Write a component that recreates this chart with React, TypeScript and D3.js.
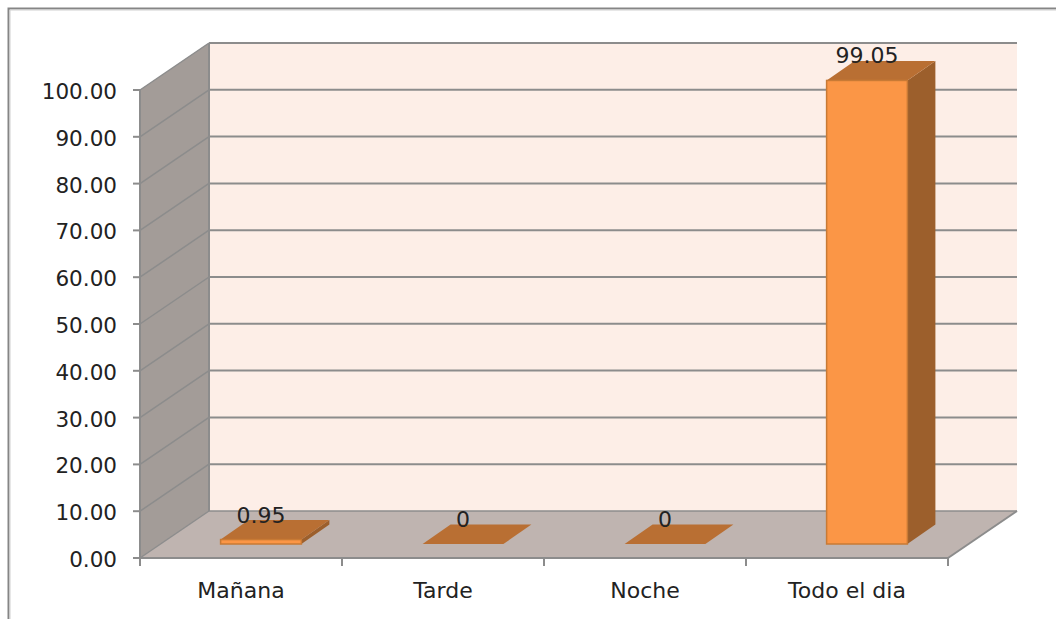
import React from "react";
import * as d3 from "d3";

const categories = ["Mañana", "Tarde", "Noche", "Todo el dia"];
const values = [0.95, 0, 0, 99.05];
const valueLabels = ["0.95", "0", "0", "99.05"];
const yTicks = [0, 10, 20, 30, 40, 50, 60, 70, 80, 90, 100];
const FONT = "'DejaVu Sans', sans-serif";

const x0 = 140, x1 = 948, yBase = 558, yTop = 90;
const dx = 69, dy = -47;
const barDx = 28, barDy = -19.5;
const floorOffX = 20, floorOffY = -14;

const y = d3.scaleLinear().domain([0, 100]).range([yBase, yTop]);
const x = d3.scaleBand<string>().domain(categories).range([x0, x1]).paddingInner(0.6).paddingOuter(0.3);

const poly = (pts: number[][]) => (d3.line()(pts as [number, number][]) ?? "") + "Z";

export default function App() {
  const h = y(0) - y(100);
  return (
    <svg width={1056} height={619} style={{ position: "absolute", left: 0, top: 0, background: "#fff" }}>
      <path d="M1056,8.5H8.5V619" fill="none" stroke="#858585" strokeWidth={2} />
      <path d="M1056,10H10V619" fill="none" stroke="#d0d0d0" strokeWidth={1} />
      {/* back wall */}
      <rect x={x0 + dx} y={yTop + dy} width={x1 - x0} height={h} fill="#fdeee7" />
      {/* side wall */}
      <path d={poly([[x0, yTop], [x0 + dx, yTop + dy], [x0 + dx, yBase + dy], [x0, yBase]])} fill="#a39c98" />
      {/* floor */}
      <path d={poly([[x0, yBase], [x0 + dx, yBase + dy], [x1 + dx, yBase + dy], [x1, yBase]])} fill="#bfb4b0" />
      {/* grid */}
      {yTicks.map((t) => (
        <g key={t} stroke="#8c8c8c" strokeWidth={2} fill="none">
          {t > 0 && <line x1={x0 + dx} x2={x1 + dx} y1={y(t) + dy} y2={y(t) + dy} />}
          {t === 0 && <line x1={x0 + dx} x2={x1 + dx} y1={y(t) + dy} y2={y(t) + dy} strokeWidth={1.5} />}
          <line x1={x0} y1={y(t)} x2={x0 + dx} y2={y(t) + dy} strokeWidth={1.5} />
          <line x1={x0 - 7} x2={x0} y1={y(t)} y2={y(t)} />
        </g>
      ))}
      <g stroke="#8c8c8c" strokeWidth={2} fill="none">
        <line x1={x0 + dx} x2={x0 + dx} y1={yTop + dy} y2={yBase + dy} />
        <line x1={x0} x2={x0} y1={yTop} y2={yBase + 8} />
        <line x1={x0} x2={x1} y1={yBase} y2={yBase} />
        <line x1={x1} y1={yBase} x2={x1 + dx} y2={yBase + dy} />
        {d3.range(5).map((i) => {
          const tx = x0 + ((x1 - x0) * i) / 4;
          return <line key={i} x1={tx} x2={tx} y1={yBase} y2={yBase + 8} />;
        })}
      </g>
      {/* bars */}
      {categories.map((c, i) => {
        const bx = x(c)! + floorOffX;
        const w = x.bandwidth();
        const b = yBase + floorOffY;
        const t = b - (yBase - y(values[i]));
        return (
          <g key={c}>
            <path d={poly([[bx + w, t], [bx + w + barDx, t + barDy], [bx + w + barDx, b + barDy], [bx + w, b]])} fill="#9c5f2c" />
            <path d={poly([[bx, t], [bx + barDx, t + barDy], [bx + w + barDx, t + barDy], [bx + w, t]])} fill="#b96f33" />
            {values[i] > 0 && (
              <rect x={bx} y={t} width={w} height={b - t} fill="#fb9646" stroke="#c87a35" strokeWidth={1.5} />
            )}
          </g>
        );
      })}
      {/* labels */}
      <g fontFamily={FONT} fontSize={21.5} fill="#222">
        {yTicks.map((t) => (
          <text key={t} x={117} y={y(t) + 9} textAnchor="end">{d3.format(".2f")(t)}</text>
        ))}
      </g>
      <g fontFamily={FONT} fontSize={22} fill="#222" textAnchor="middle">
        {categories.map((c) => (
          <text key={c} x={x(c)! + x.bandwidth() / 2} y={598}>{c}</text>
        ))}
        {categories.map((c, i) => (
          <text key={c} x={x(c)! + floorOffX + x.bandwidth() / 2} y={yBase + floorOffY - (yBase - y(values[i])) - 17}>{valueLabels[i]}</text>
        ))}
      </g>
    </svg>
  );
}
